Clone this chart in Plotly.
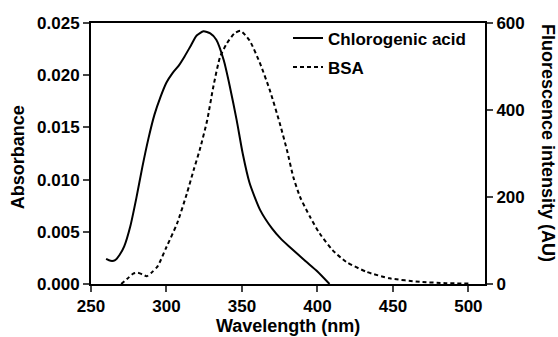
import plotly.graph_objects as go

# Chlorogenic acid absorbance (left axis)
cga_wavelength = [260, 263, 266, 269, 272, 276, 280, 284, 288, 292, 296, 300, 304, 308, 312, 316,
                  320, 324.5, 329, 333, 338, 342, 346.5, 350.5, 355, 362, 370, 376, 382, 392,
                  400, 408]
cga_absorbance = [0.00240, 0.00222, 0.00228, 0.00280, 0.00360, 0.0055, 0.0082, 0.0112, 0.0139,
                  0.0162, 0.0179, 0.0193, 0.0202, 0.0209, 0.0218, 0.0228, 0.0238, 0.0242,
                  0.0240, 0.0234, 0.0214, 0.0189, 0.0157, 0.0125, 0.0097, 0.0071, 0.0053,
                  0.0043, 0.0035, 0.0022, 0.0012, 0.0000]

# BSA fluorescence (right axis)
bsa_wavelength = [270, 274, 278, 281, 284, 287, 290, 294, 300, 307, 313.5, 318, 322, 327, 331,
                  335.5, 340, 345, 349, 355, 362, 368.5, 375, 380, 384, 388.5, 395, 401.5, 410,
                  419, 432.5, 448, 468, 485, 500]
bsa_fluorescence = [0, 12, 24, 26, 22, 18, 26, 40, 85, 139, 208, 262, 308, 377, 453, 522, 553,
                    576, 582, 560, 507, 445, 370, 305, 246, 200, 155, 116, 78, 51, 28, 13, 5, 2, 1]

x_ticks = [250, 300, 350, 400, 450, 500]
left_ticks = [0.000, 0.005, 0.010, 0.015, 0.020, 0.025]
right_ticks = [0, 200, 400, 600]

FONT = "Liberation Sans"
tickfont = dict(family=FONT, size=17, color="black", weight="bold")
titlefont = dict(family=FONT, size=18, color="black", weight="bold")

fig = go.Figure()
fig.add_trace(go.Scatter(x=cga_wavelength, y=cga_absorbance, mode="lines",
                         name="Chlorogenic acid", legendgroup="a",
                         line=dict(color="black", width=2, shape="spline", smoothing=0.6)))
fig.add_trace(go.Scatter(x=bsa_wavelength, y=bsa_fluorescence, mode="lines",
                         name="BSA", legendgroup="b", yaxis="y2",
                         line=dict(color="black", width=2, dash="4px,3px", shape="spline", smoothing=0.6)))

fig.update_layout(
    width=558, height=337,
    margin=dict(l=91, r=73, t=23, b=53),
    paper_bgcolor="white", plot_bgcolor="white",
    font=dict(family=FONT, size=17, color="black", weight="bold"),
    showlegend=True,
    legend=dict(x=0.5, y=1.01, xanchor="left", yanchor="top", bgcolor="rgba(0,0,0,0)",
                font=dict(family=FONT, size=17, color="black", weight="bold"),
                tracegroupgap=4, itemwidth=30),
    xaxis=dict(range=[250, 511], tickvals=x_ticks, ticks="outside", ticklen=6, tickwidth=2,
               showline=True, linewidth=2, linecolor="black", mirror=True, showgrid=False,
               zeroline=False, tickfont=tickfont),
    yaxis=dict(range=[0, 0.025], tickvals=left_ticks, tickformat=".3f", ticks="outside",
               ticklen=6, tickwidth=2, showline=True, linewidth=2, linecolor="black",
               showgrid=False, zeroline=False, tickfont=tickfont),
    yaxis2=dict(range=[0, 600], tickvals=right_ticks, overlaying="y", side="right",
                ticks="outside", ticklen=6, tickwidth=2, showline=True, linewidth=2,
                linecolor="black", showgrid=False, zeroline=False, tickfont=tickfont),
    annotations=[
        dict(text="Wavelength (nm)", xref="paper", yref="paper", x=0.499, y=-0.16,
             xanchor="center", yanchor="middle", showarrow=False, font=titlefont),
        dict(text="Absorbance", xref="paper", yref="paper", x=-0.185, y=0.486,
             xanchor="center", yanchor="middle", textangle=-90, showarrow=False, font=titlefont),
        dict(text="Fluorescence intensity (AU)", xref="paper", yref="paper", x=1.16, y=0.54,
             xanchor="center", yanchor="middle", textangle=90, showarrow=False, font=titlefont),
    ],
)

fig.write_html("out.html")
